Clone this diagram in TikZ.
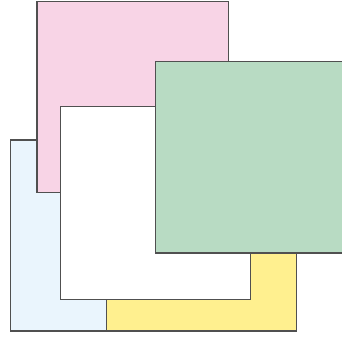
\documentclass[tikz,border=0pt]{standalone}
\definecolor{pinkf}{HTML}{F8D4E6}
\definecolor{bluef}{HTML}{EAF5FD}
\definecolor{yellowf}{HTML}{FFF08F}
\definecolor{greenf}{HTML}{B8DBC3}
\definecolor{edgec}{HTML}{505050}
\tikzset{sheet/.style={draw=edgec, line width=1.1pt}}
\begin{document}
\begin{tikzpicture}[x=1pt,y=-1pt]
\useasboundingbox (0,0) rectangle (342,340);
\clip (0,0) rectangle (342,340);
\path[sheet, fill=bluef] (10.3,140) rectangle (201,331);
\path[sheet, fill=yellowf] (106.7,141) rectangle (296.7,331);
\path[sheet, fill=pinkf] (37,1.8) rectangle (228.7,192.7);
\path[sheet, fill=white] (60.3,106.7) rectangle (250.3,299.3);
\path[sheet, fill=greenf] (155.7,61.7) rectangle (347,253);
\end{tikzpicture}
\end{document}
